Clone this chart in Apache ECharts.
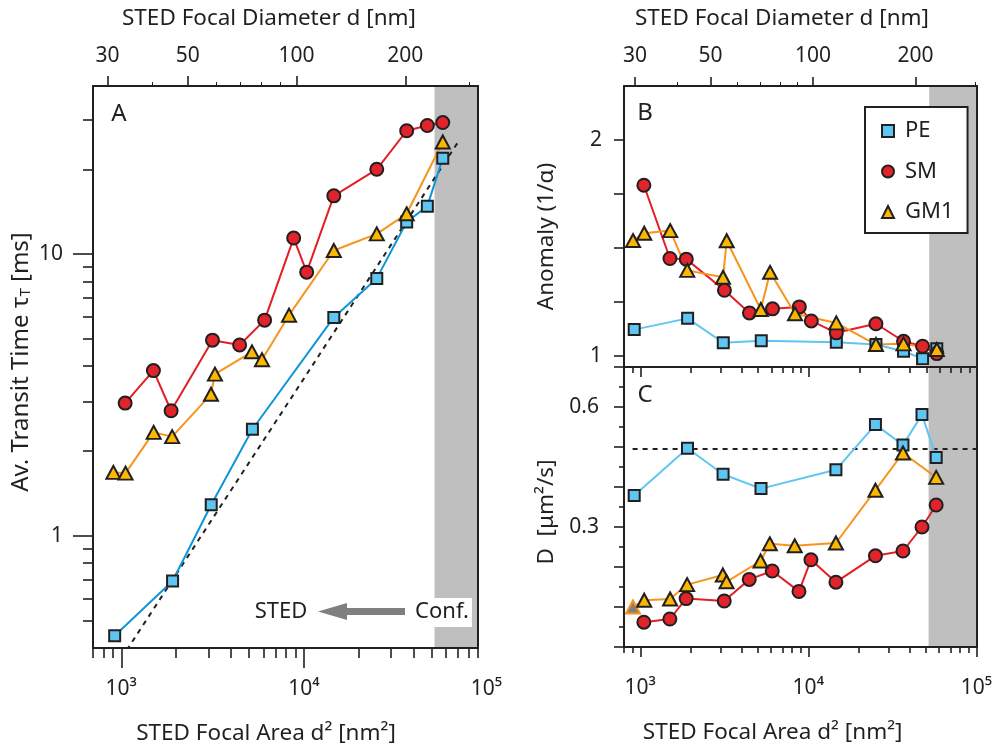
<!DOCTYPE html>
<html><head><meta charset="utf-8">
<script src="https://cdn.jsdelivr.net/npm/echarts@6/dist/echarts.min.js"></script>
<style>html,body{margin:0;padding:0;background:#fff}#c{width:995px;height:751px}</style>
</head><body><div id="c"></div>
<script>
// ---------------- data ----------------
// Focal areas d^2 [nm^2] of each measurement
const peArea = [920, 1910, 3110, 5230, 14600, 25100, 36600, 47500, 57700];
const smArea = [1050, 1500, 1875, 3160, 4450, 6100, 8800, 10370, 14600, 25100, 36600, 47500, 57700];
const gmArea = [905, 1055, 1505, 1900, 3100, 3260, 5200, 5900, 8300, 14600, 25100, 36600, 57700];
// Panel A: average transit time [ms]
const peTransit = [0.442, 0.692, 1.29, 2.39, 5.96, 8.20, 13.0, 14.8, 21.9];
const smTransit = [2.96, 3.86, 2.78, 4.95, 4.76, 5.83, 11.4, 8.63, 16.1, 20.0, 27.4, 28.6, 29.3];
const gmTransit = [1.68, 1.67, 2.33, 2.25, 3.18, 3.75, 4.50, 4.22, 6.07, 10.3, 11.8, 13.9, 25.0];
// Panel B: anomaly 1/alpha
const peAnomaly = [1.123, 1.175, 1.062, 1.071, 1.065, 1.054, 1.023, 0.988, 1.034];
const smAnomaly = [1.791, 1.452, 1.449, 1.305, 1.200, 1.219, 1.228, 1.163, 1.108, 1.150, 1.069, 1.046, 1.012];
const gmAnomaly = [1.535, 1.569, 1.581, 1.397, 1.365, 1.534, 1.216, 1.388, 1.196, 1.154, 1.054, 1.057, 1.031];
// Panel C: diffusion coefficient D [um^2/s]
const peDiff = [0.379, 0.497, 0.432, 0.396, 0.443, 0.556, 0.505, 0.581, 0.474];
const smDiff = [0.062, 0.070, 0.121, 0.115, 0.169, 0.190, 0.139, 0.218, 0.162, 0.228, 0.240, 0.300, 0.355];
const gmDiff = [0.100, 0.117, 0.120, 0.156, 0.180, 0.163, 0.215, 0.258, 0.253, 0.260, 0.392, 0.485, 0.424];
// reference lines
const freeArea = [1000, 70600];        // dashed free-diffusion line, panel A
const freeTransit = [0.367, 25.2];
const freeDArea = [900, 100000];       // dashed line, panel C
const freeD = [0.495, 0.495];
const confocalStart = 52000;           // grey (confocal) region start [nm^2]
// tick labels
const areaDecades = [3, 4, 5];         // 10^3, 10^4, 10^5
const diameterTicks = [30, 50, 100, 200];
const diameterMinor = [40, 60, 70, 80, 90, 300];
const transitLabels = [1, 10];
const anomalyTicks = [1, 1.25, 1.5, 1.75, 2];
const anomalyLabels = [1, 2];
const diffTicks = [0, 0.1, 0.2, 0.3, 0.4, 0.5, 0.6, 0.7];
const diffMinor = [0.05, 0.15, 0.25, 0.35, 0.45, 0.55, 0.65];
const diffLabels = [0.3, 0.6];

// ---------------- styling ----------------
const L = Math.log10;
const INK = '#231f20', GRAY = '#bfbfbf';
const PE_FILL = '#5ec6f2', PE_LINE_A = '#0e96d8', PE_LINE = '#5ec6f2';
const SM_FILL = '#e1242b', SM_LINE = '#e31e25';
const GM_FILL = '#fbb800', GM_LINE = '#f7941d';
const FONT = '"Noto Sans", sans-serif';
const TITLE = 22.5;

const sup = {3: '³', 4: '⁴', 5: '⁵'};
function minorLog(lo, hi) {
  const out = [];
  for (let e = -2; e <= 5; e++) for (let m = 2; m <= 9; m++) {
    const v = m * Math.pow(10, e);
    if (v >= lo * 0.999 && v <= hi * 1.001) out.push(L(v));
  }
  return out;
}

// grids (pixel layout)
const grids = [
  {left: 93, top: 86, width: 385, height: 562},
  {left: 624, top: 86, width: 353, height: 281},
  {left: 624, top: 367, width: 353, height: 280}
];
const AX = {
  xMin: [L(700), L(800), L(800)], xMax: [L(90000), 5, 5],
  dMin: [1.4369, 1.4445], dMax: [2.5022, 2.4817]
};

const lineS = {color: INK, width: 2};
const tickS = {color: INK, width: 1.6};
function axis(o) {
  return Object.assign({
    type: 'value', z: 6, splitLine: {show: false},
    axisLine: {show: false, onZero: false, lineStyle: lineS},
    axisTick: {show: false, lineStyle: tickS},
    axisLabel: {show: false},
    axisPointer: {show: false}
  }, o);
}
const labelStyle = {color: INK, fontFamily: FONT, fontSize: 21};
const titleStyle = (pad) => ({color: INK, fontFamily: FONT, fontSize: TITLE, padding: pad});

const xAxis = [
  // 0 A bottom major
  axis({gridIndex: 0, position: 'bottom', min: AX.xMin[0], max: AX.xMax[0],
    axisLine: {show: true, onZero: false, lineStyle: lineS},
    axisTick: {show: true, length: 20, lineStyle: tickS, customValues: [3, 4]},
    axisLabel: Object.assign({show: true, margin: 31, customValues: [3, 4],
      formatter: v => '10' + sup[Math.round(v)]}, labelStyle),
    name: 'STED Focal Area d² [nm²]', nameLocation: 'middle', nameGap: 74,
    nameTextStyle: titleStyle([0, 39, 0, 0])}),
  // 1 A bottom minor
  axis({gridIndex: 0, position: 'bottom', min: AX.xMin[0], max: AX.xMax[0],
    axisTick: {show: true, length: 10, lineStyle: tickS, customValues: minorLog(700, 90000)}}),
  // 2 A top major (diameter)
  axis({gridIndex: 0, position: 'top', min: AX.dMin[0], max: AX.dMax[0],
    axisLine: {show: true, onZero: false, lineStyle: lineS},
    axisTick: {show: true, length: 10, lineStyle: tickS, customValues: diameterTicks.map(L)},
    axisLabel: Object.assign({show: true, margin: 19, customValues: diameterTicks.map(L),
      formatter: v => String(Math.round(Math.pow(10, v)))}, labelStyle),
    name: 'STED Focal Diameter d [nm]', nameLocation: 'middle', nameGap: 56,
    nameTextStyle: titleStyle([0, 33, 0, 0])}),
  // 3 A top minor
  axis({gridIndex: 0, position: 'top', min: AX.dMin[0], max: AX.dMax[0],
    axisTick: {show: true, length: 4, lineStyle: {color: INK, width: 1}, customValues: diameterMinor.map(L)}}),
  // 4 B bottom major
  axis({gridIndex: 1, position: 'bottom', min: AX.xMin[1], max: AX.xMax[1],
    axisLine: {show: true, onZero: false, lineStyle: lineS},
    axisTick: {show: true, length: 10, lineStyle: tickS, customValues: areaDecades}}),
  // 5 B bottom minor
  axis({gridIndex: 1, position: 'bottom', min: AX.xMin[1], max: AX.xMax[1],
    axisTick: {show: true, length: 6, lineStyle: tickS, customValues: minorLog(800, 99999)}}),
  // 6 B top major (diameter)
  axis({gridIndex: 1, position: 'top', min: AX.dMin[1], max: AX.dMax[1],
    axisLine: {show: true, onZero: false, lineStyle: lineS},
    axisTick: {show: true, length: 9, lineStyle: tickS, customValues: diameterTicks.map(L)},
    axisLabel: Object.assign({show: true, margin: 19, customValues: diameterTicks.map(L),
      formatter: v => String(Math.round(Math.pow(10, v)))}, labelStyle),
    name: 'STED Focal Diameter d [nm]', nameLocation: 'middle', nameGap: 56,
    nameTextStyle: titleStyle([0, 37, 0, 0])}),
  // 7 B top minor
  axis({gridIndex: 1, position: 'top', min: AX.dMin[1], max: AX.dMax[1],
    axisTick: {show: true, length: 4, lineStyle: {color: INK, width: 1}, customValues: diameterMinor.map(L)}}),
  // 8 C bottom major
  axis({gridIndex: 2, position: 'bottom', min: AX.xMin[2], max: AX.xMax[2],
    axisLine: {show: true, onZero: false, lineStyle: lineS},
    axisTick: {show: true, length: 10, lineStyle: tickS, customValues: areaDecades},
    axisLabel: Object.assign({show: true, margin: 31, customValues: areaDecades,
      formatter: v => '10' + sup[Math.round(v)]}, labelStyle),
    name: 'STED Focal Area d² [nm²]', nameLocation: 'middle', nameGap: 74,
    nameTextStyle: titleStyle([0, 55, 0, 0])}),
  // 9 C bottom minor
  axis({gridIndex: 2, position: 'bottom', min: AX.xMin[2], max: AX.xMax[2],
    axisTick: {show: true, length: 6, lineStyle: tickS, customValues: minorLog(800, 99999)}})
];

const yAxis = [
  // 0 A left major (log10 transit time)
  axis({gridIndex: 0, position: 'left', min: L(0.4), max: L(39.5),
    axisLine: {show: true, onZero: false, lineStyle: lineS},
    axisTick: {show: true, length: 20, lineStyle: tickS, customValues: transitLabels.map(L)},
    axisLabel: Object.assign({show: true, margin: 30, customValues: transitLabels.map(L),
      formatter: v => String(Math.round(Math.pow(10, v)))}, labelStyle),
    name: '{t|Av. Transit Time τ}{s|T}{t| [ms]}', nameLocation: 'middle', nameGap: 60,
    nameTextStyle: {color: INK, fontFamily: FONT, fontSize: 24, padding: [0, 0, 0, 10],
      rich: {t: {color: INK, fontFamily: FONT, fontSize: 24},
             s: {color: INK, fontFamily: FONT, fontSize: 15, verticalAlign: 'bottom', lineHeight: 12}}}}),
  // 1 A left minor
  axis({gridIndex: 0, position: 'left', min: L(0.4), max: L(39.5),
    axisTick: {show: true, length: 10, lineStyle: tickS, customValues: minorLog(0.41, 39.5)}}),
  // 2 A right frame
  axis({gridIndex: 0, position: 'right', min: L(0.4), max: L(39.5),
    axisLine: {show: true, onZero: false, lineStyle: lineS}}),
  // 3 B left
  axis({gridIndex: 1, position: 'left', min: 0.95, max: 2.25,
    axisLine: {show: true, onZero: false, lineStyle: lineS},
    axisTick: {show: true, length: 10, lineStyle: tickS, customValues: anomalyTicks},
    axisLabel: Object.assign({show: true, margin: 22, customValues: anomalyLabels,
      formatter: v => String(Math.round(v))}, labelStyle),
    name: 'Anomaly (1/α)', nameLocation: 'middle', nameGap: 66,
    nameTextStyle: titleStyle([0, 20, 0, 0])}),
  // 4 B right frame
  axis({gridIndex: 1, position: 'right', min: 0.95, max: 2.25,
    axisLine: {show: true, onZero: false, lineStyle: lineS}}),
  // 5 C left major
  axis({gridIndex: 2, position: 'left', min: 0, max: 0.7,
    axisLine: {show: true, onZero: false, lineStyle: lineS},
    axisTick: {show: true, length: 10, lineStyle: tickS, customValues: diffTicks},
    axisLabel: Object.assign({show: true, margin: 25, customValues: diffLabels,
      formatter: v => v.toFixed(1)}, labelStyle),
    name: 'D  [μm²/s]', nameLocation: 'middle', nameGap: 66,
    nameTextStyle: titleStyle([0, 10, 0, 0])}),
  // 6 C left minor
  axis({gridIndex: 2, position: 'left', min: 0, max: 0.7,
    axisTick: {show: true, length: 5, lineStyle: tickS, customValues: diffMinor}}),
  // 7 C right frame
  axis({gridIndex: 2, position: 'right', min: 0, max: 0.7,
    axisLine: {show: true, onZero: false, lineStyle: lineS}})
];

const XI = [0, 4, 8], YI = [0, 3, 5];
const YR = [[L(0.4), L(39.5)], [0.95, 2.25], [0, 0.7]];

function pts(xs, ys, logY) { return xs.map((x, i) => [L(x), logY ? L(ys[i]) : ys[i]]); }
function dataSeries(name, g, xs, ys, logY, symbol, size, fill, line) {
  return {
    name, type: 'line', xAxisIndex: XI[g], yAxisIndex: YI[g],
    data: pts(xs, ys, logY), symbol, symbolSize: size, showSymbol: true,
    itemStyle: {color: fill, borderColor: INK, borderWidth: 2},
    lineStyle: {color: line, width: 2}, z: 3, emphasis: {disabled: true}
  };
}
function shade(g) {
  return {
    type: 'line', xAxisIndex: XI[g], yAxisIndex: YI[g], data: [], silent: true, z: 1,
    markArea: {silent: true, itemStyle: {color: GRAY}, label: {show: false},
      data: [[{coord: [L(confocalStart), YR[g][0]]}, {coord: [AX.xMax[g], YR[g][1]]}]]}
  };
}

const gmC = pts(gmArea, gmDiff, false).map((p, i) => i === 0
  ? {value: p, itemStyle: {color: '#7f7f7f', borderColor: GM_LINE, borderWidth: 2}} : p);

const series = [
  shade(0), shade(1), shade(2),
  {type: 'line', xAxisIndex: 0, yAxisIndex: 0, data: pts(freeArea, freeTransit, true), symbol: 'none',
   lineStyle: {color: INK, width: 2, type: [5, 5]}, z: 2, silent: true},
  {type: 'line', xAxisIndex: 8, yAxisIndex: 5, data: pts(freeDArea, freeD, false), symbol: 'none',
   lineStyle: {color: INK, width: 2, type: [5, 5]}, z: 2, silent: true},
  dataSeries('PE', 0, peArea, peTransit, true, 'rect', 11, PE_FILL, PE_LINE_A),
  dataSeries('SM', 0, smArea, smTransit, true, 'circle', 13, SM_FILL, SM_LINE),
  dataSeries('GM1', 0, gmArea, gmTransit, true, 'triangle', [14, 13], GM_FILL, GM_LINE),
  dataSeries('PE', 1, peArea, peAnomaly, false, 'rect', 11, PE_FILL, PE_LINE),
  dataSeries('SM', 1, smArea, smAnomaly, false, 'circle', 13, SM_FILL, SM_LINE),
  dataSeries('GM1', 1, gmArea, gmAnomaly, false, 'triangle', [14, 13], GM_FILL, GM_LINE),
  dataSeries('PE', 2, peArea, peDiff, false, 'rect', 11, PE_FILL, PE_LINE),
  dataSeries('SM', 2, smArea, smDiff, false, 'circle', 13, SM_FILL, SM_LINE),
  Object.assign(dataSeries('GM1', 2, gmArea, gmDiff, false, 'triangle', [14, 13], GM_FILL, GM_LINE), {data: gmC})
];

const txt = (x, y, s, size, extra) => Object.assign({type: 'text', x, y, z: 20,
  style: Object.assign({text: s, fill: INK, font: size + 'px "Noto Sans", sans-serif', align: 'center', verticalAlign: 'middle'}, extra || {})});

const graphic = [
  txt(119, 114, 'A', 24), txt(645, 113, 'B', 24), txt(645, 395, 'C', 24),
  txt(281, 612, 'STED', 22),
  {type: 'polygon', z: 20, shape: {points: [[318, 611.5], [347, 603], [347, 608], [405, 608], [405, 615], [347, 615], [347, 620]]},
   style: {fill: '#7f7f7f'}},
  {type: 'rect', z: 19, shape: {x: 412, y: 598, width: 60, height: 29}, style: {fill: '#fff'}},
  txt(442, 612, 'Conf.', 22)
];

const chart = echarts.init(document.getElementById('c'), null, {renderer: 'canvas'});
chart.setOption({
  animation: false, backgroundColor: '#fff',
  grid: grids,
  xAxis, yAxis, series,
  legend: {
    orient: 'vertical', left: 865, top: 107, padding: [13, 14, 10, 16], itemGap: 18.5,
    itemWidth: 12, itemHeight: 12, selectedMode: false,
    backgroundColor: '#fff', borderColor: INK, borderWidth: 2, borderRadius: 0, z: 15,
    textStyle: {color: INK, fontFamily: FONT, fontSize: 22, lineHeight: 12, padding: [0, 0, 0, 6]},
    data: [{name: 'PE', icon: 'rect'}, {name: 'SM', icon: 'circle'}, {name: 'GM1', icon: 'triangle'}]
  },
  graphic
});
// 10^5 label of panel A lies just outside its axis range
const x5 = chart.convertToPixel({xAxisIndex: 0}, 5);
graphic.push(txt(x5, 648 + 31, '10' + sup[5], 21, {verticalAlign: 'top'}));
chart.setOption({graphic});
</script>
</body></html>
